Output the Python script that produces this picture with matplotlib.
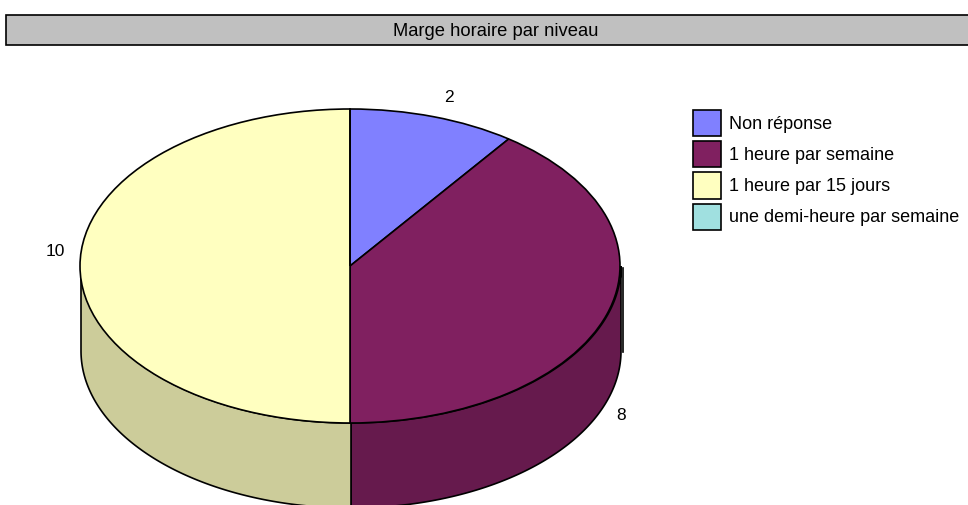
import numpy as np
import matplotlib
matplotlib.use('Agg')
import matplotlib.pyplot as plt
from matplotlib.patches import Patch, Rectangle

plt.rcParams['font.family'] = ['Liberation Sans', 'DejaVu Sans']

title = 'Marge horaire par niveau'
categories = ['Non réponse', '1 heure par semaine', '1 heure par 15 jours', 'une demi-heure par semaine']
values = [2, 8, 10, 0]
shown_labels = ['2', '8', '10', '']
top_colors = ['#8080FF', '#802060', '#FFFFC0', '#A0E0E0']
side_colors = ['#6666CC', '#661A4D', '#CCCC9A', '#80B3B3']

W, H = 968, 505
cx, cy, rx, ry = 350, 266, 270, 157
depth = 85 / ry
wall_shift = 1 / rx


def px(x, y):
    return x / W, 1 - y / H


fig = plt.figure(figsize=(W / 100, H / 100), dpi=100)
ax = fig.add_axes([0, 0, 1, 1])

# pie, stretched by the axes limits to look tilted
ax.pie(values, colors=top_colors, startangle=90, counterclock=False, radius=1,
       wedgeprops={'edgecolor': 'black', 'linewidth': 1.2, 'zorder': 3})
ax.set_aspect('auto')
ax.set_xlim(-cx / rx, (W - cx) / rx)
ax.set_ylim((cy - H) / ry, cy / ry)

# side wall, only the front half shows
edges = np.cumsum([0] + values) / sum(values) * 360
for i in range(len(values)):
    a0 = max(edges[i], 90)
    a1 = min(edges[i + 1], 270)
    if a1 <= a0:
        continue
    t = np.radians(np.linspace(a0, a1, 120))
    xs = np.sin(t) + wall_shift
    ys = np.cos(t)
    ax.fill(np.r_[xs, xs[::-1]], np.r_[ys, ys[::-1] - depth], facecolor=side_colors[i],
            edgecolor='black', linewidth=1.2, zorder=1, clip_on=True)

# the offset line right of the wall
ax.plot([273 / rx, 273 / rx], [(cy - 268) / ry, (cy - 352) / ry], color='black', lw=1.2, zorder=2)

# title band
fig.add_artist(Rectangle(px(5.5, 45), (W + 10) / W, 30 / H, transform=fig.transFigure,
                         facecolor='#C0C0C0', edgecolor='black', linewidth=1.2))
fig.text(*px(496, 32), title, ha='center', va='center', fontsize=13.2, color='black')

# value labels
fig.text(*px(449, 98), shown_labels[0], ha='center', va='center', fontsize=12.5)
fig.text(*px(621, 415), shown_labels[1], ha='center', va='center', fontsize=12.5)
fig.text(*px(55, 251), shown_labels[2], ha='center', va='center', fontsize=12.5)

handles = [Patch(facecolor=c, edgecolor='black', linewidth=1.2) for c in top_colors]
fig.legend(handles, categories, loc='upper left', bbox_to_anchor=px(693, 110), frameon=False,
           fontsize=13, handlelength=1.55, handleheight=1.85, handletextpad=0.42,
           labelspacing=0.28, borderpad=0, borderaxespad=0)

fig.savefig('out.png', dpi=100)
